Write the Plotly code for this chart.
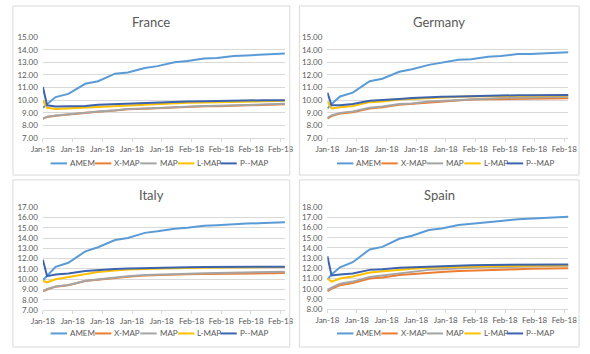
import plotly.graph_objects as go

# observation dates (Excel date axis, weekly labels)
dates = ['2018-01-01', '2018-01-02', '2018-01-04', '2018-01-07', '2018-01-11',
         '2018-01-14', '2018-01-18', '2018-01-21', '2018-01-25', '2018-01-28',
         '2018-02-01', '2018-02-04', '2018-02-08', '2018-02-11', '2018-02-15',
         '2018-02-18', '2018-02-22', '2018-02-25', '2018-02-27']

series_names = ['AMEM', 'X-MAP', 'MAP', 'L-MAP', 'P--MAP']

# France
fr_amem = [9.4, 9.7, 10.25, 10.5, 11.3, 11.5, 12.1, 12.2, 12.55, 12.7, 13.0, 13.1, 13.3, 13.35, 13.5, 13.55, 13.6, 13.65, 13.7]
fr_xmap = [8.53, 8.68, 8.78, 8.88, 8.98, 9.08, 9.18, 9.28, 9.33, 9.38, 9.43, 9.48, 9.52, 9.53, 9.58, 9.6, 9.63, 9.66, 9.68]
fr_map = [8.55, 8.7, 8.8, 8.9, 9.0, 9.1, 9.2, 9.3, 9.35, 9.4, 9.45, 9.5, 9.55, 9.56, 9.6, 9.62, 9.65, 9.68, 9.72]
fr_lmap = [10.0, 9.4, 9.3, 9.35, 9.4, 9.5, 9.55, 9.6, 9.65, 9.7, 9.75, 9.8, 9.82, 9.85, 9.87, 9.9, 9.92, 9.93, 9.95]
fr_pmap = [11.05, 9.6, 9.5, 9.5, 9.55, 9.65, 9.7, 9.75, 9.8, 9.85, 9.88, 9.9, 9.92, 9.95, 9.97, 9.98, 10.0, 10.0, 10.0]

# Germany
de_amem = [9.35, 9.7, 10.3, 10.6, 11.5, 11.7, 12.25, 12.45, 12.8, 12.95, 13.2, 13.25, 13.45, 13.5, 13.65, 13.65, 13.72, 13.78, 13.8]
de_xmap = [8.55, 8.75, 8.95, 9.05, 9.35, 9.45, 9.65, 9.72, 9.85, 9.92, 10.0, 10.05, 10.08, 10.1, 10.12, 10.13, 10.15, 10.15, 10.15]
de_map = [8.6, 8.8, 9.0, 9.1, 9.4, 9.5, 9.7, 9.75, 9.9, 9.95, 10.05, 10.1, 10.15, 10.18, 10.2, 10.22, 10.25, 10.25, 10.27]
de_lmap = [9.9, 9.35, 9.45, 9.55, 9.85, 9.9, 10.05, 10.1, 10.2, 10.25, 10.28, 10.3, 10.32, 10.33, 10.35, 10.35, 10.36, 10.36, 10.37]
de_pmap = [10.6, 9.6, 9.6, 9.7, 9.95, 10.0, 10.1, 10.18, 10.25, 10.28, 10.3, 10.33, 10.35, 10.38, 10.4, 10.4, 10.42, 10.42, 10.42]

# Italy
it_amem = [9.9, 10.35, 11.2, 11.6, 12.7, 13.1, 13.8, 14.0, 14.5, 14.65, 14.9, 15.0, 15.2, 15.25, 15.35, 15.4, 15.45, 15.5, 15.52]
it_xmap = [8.82, 9.0, 9.28, 9.42, 9.82, 9.97, 10.15, 10.25, 10.35, 10.4, 10.45, 10.48, 10.5, 10.52, 10.55, 10.55, 10.57, 10.58, 10.6]
it_map = [8.85, 9.05, 9.3, 9.45, 9.85, 10.0, 10.2, 10.3, 10.4, 10.45, 10.5, 10.55, 10.58, 10.6, 10.62, 10.65, 10.67, 10.7, 10.72]
it_lmap = [9.85, 9.7, 10.0, 10.2, 10.5, 10.7, 10.85, 10.95, 11.0, 11.05, 11.08, 11.1, 11.12, 11.13, 11.15, 11.15, 11.16, 11.17, 11.18]
it_pmap = [11.9, 10.3, 10.45, 10.55, 10.8, 10.9, 11.0, 11.05, 11.1, 11.12, 11.15, 11.17, 11.18, 11.2, 11.2, 11.22, 11.22, 11.22, 11.22]

# Spain
es_amem = [10.9, 11.4, 12.1, 12.6, 13.85, 14.1, 14.9, 15.2, 15.75, 15.9, 16.25, 16.35, 16.55, 16.65, 16.8, 16.85, 16.95, 17.0, 17.05]
es_xmap = [9.75, 10.0, 10.35, 10.55, 11.0, 11.1, 11.35, 11.45, 11.6, 11.65, 11.75, 11.8, 11.85, 11.88, 11.92, 11.95, 11.97, 11.98, 12.0]
es_map = [9.85, 10.1, 10.5, 10.7, 11.15, 11.3, 11.55, 11.65, 11.85, 11.9, 12.0, 12.05, 12.1, 12.12, 12.15, 12.18, 12.2, 12.22, 12.25]
es_lmap = [11.0, 10.7, 11.0, 11.2, 11.6, 11.7, 11.9, 11.95, 12.05, 12.1, 12.15, 12.18, 12.2, 12.22, 12.25, 12.25, 12.27, 12.28, 12.3]
es_pmap = [13.2, 11.3, 11.4, 11.5, 11.85, 11.9, 12.05, 12.1, 12.2, 12.22, 12.28, 12.3, 12.33, 12.35, 12.35, 12.37, 12.37, 12.37, 12.38]

colors = ['#5B9BD5', '#ED7D31', '#A5A5A5', '#FFC000', '#3C64AE']

W, H = 590, 354
FONT = 'Lato, Noto Sans, sans-serif'
GREY = '#595959'

# legend key offsets inside a panel (px from panel left): start of each line sample
legend_offsets = [40, 86, 133, 172, 216]


def px(x):
    return x / W


def py(y):
    return 1 - y / H


panels = [
    # name, data, y-range, plot box (left, right, top, bottom px), border box, legend y
    ('France', [fr_amem, fr_xmap, fr_map, fr_lmap, fr_pmap], (7, 15), (32, 283, 33, 137), (1, 288, 1, 175), 163),
    ('Germany', [de_amem, de_xmap, de_map, de_lmap, de_pmap], (7, 15), (327, 577, 33, 137), (298, 588, 1, 175), 163),
    ('Italy', [it_amem, it_xmap, it_map, it_lmap, it_pmap], (7, 17), (32, 283, 208, 314), (1, 288, 180, 352), 338),
    ('Spain', [es_amem, es_xmap, es_map, es_lmap, es_pmap], (8, 18), (327, 577, 208, 313), (298, 588, 180, 352), 338),
]

fig = go.Figure()
layout = dict(shapes=[], annotations=[])

for i, (name, data, yr, box, border, ly) in enumerate(panels):
    n = '' if i == 0 else str(i + 1)
    for s, vals in enumerate(data):
        fig.add_trace(go.Scatter(
            x=dates, y=vals, mode='lines', name=series_names[s],
            line=dict(color=colors[s], width=2),
            xaxis='x' + n, yaxis='y' + n, showlegend=False,
        ))
    left, right, top, bottom = box
    layout['xaxis' + n] = dict(
        domain=[px(left), px(right)], anchor='y' + n, type='date',
        range=[dates[0], dates[-1]], tick0='2018-01-01', dtick=7 * 86400000,
        tickformat='%b-%y', tickangle=0, showgrid=False, showline=True,
        linecolor='#d9d9d9', ticks='outside', ticklen=3, tickcolor='#d9d9d9',
        tickfont=dict(size=8, color=GREY, family=FONT),
    )
    layout['yaxis' + n] = dict(
        domain=[py(bottom), py(top)], anchor='x' + n, range=list(yr), dtick=1,
        tickformat='.2f', showgrid=True, gridcolor='#d9d9d9', gridwidth=0.75,
        zeroline=False, ticklabelstandoff=4,
        tickfont=dict(size=8, color=GREY, family=FONT),
    )
    bx0, bx1, by0, by1 = border
    layout['shapes'].append(dict(
        type='rect', xref='paper', yref='paper',
        x0=px(bx0), x1=px(bx1), y0=py(by1), y1=py(by0),
        line=dict(color='#d9d9d9', width=1),
    ))
    layout['annotations'].append(dict(
        text=name, xref='paper', yref='paper', x=px((bx0 + bx1) / 2), y=py(by0 + 16),
        xanchor='center', yanchor='middle', showarrow=False,
        font=dict(size=13, color=GREY, family=FONT),
    ))
    # legend key below each panel
    for s, off in enumerate(legend_offsets):
        lx = bx0 - 1 + off
        layout['shapes'].append(dict(
            type='line', xref='paper', yref='paper',
            x0=px(lx), x1=px(lx + 17), y0=py(ly), y1=py(ly),
            line=dict(color=colors[s], width=2),
        ))
        layout['annotations'].append(dict(
            text=series_names[s], xref='paper', yref='paper', x=px(lx + 18), y=py(ly),
            xanchor='left', yanchor='middle', showarrow=False,
            font=dict(size=8, color=GREY, family=FONT),
        ))

fig.update_layout(
    width=W, height=H, margin=dict(l=0, r=0, t=0, b=0),
    paper_bgcolor='white', plot_bgcolor='white', **layout,
)

# drop the default body margin so the 590x354 figure fits the window exactly
fig.write_html("out.html", config={'displayModeBar': False},
               post_script="document.body.style.margin='0';document.body.style.overflow='hidden';")
